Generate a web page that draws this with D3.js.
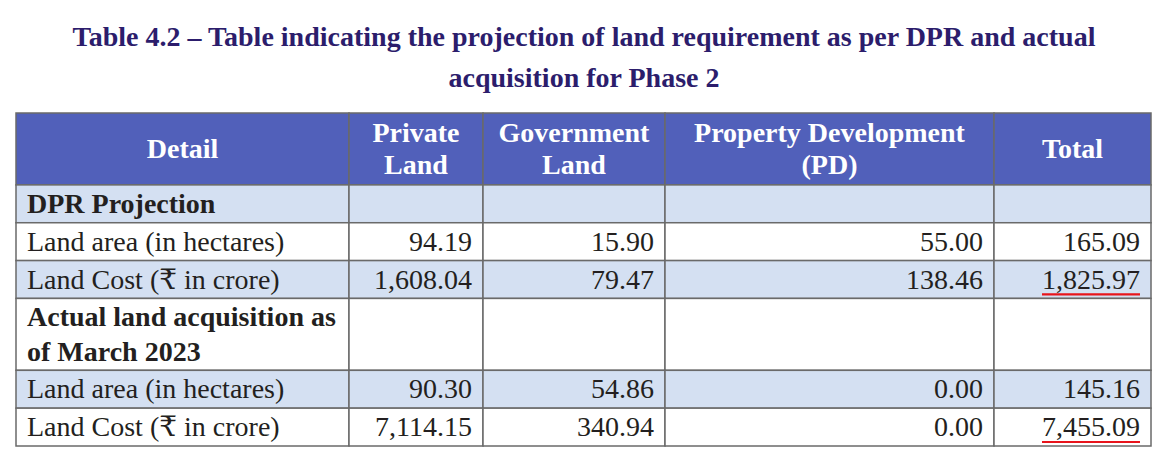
<!DOCTYPE html>
<html>
<head>
<meta charset="utf-8">
<script src="https://cdn.jsdelivr.net/npm/d3@7"></script>
<style>
  body { margin: 0; background: #fff; }
  svg { display: block; }
</style>
</head>
<body>
<div id="chart"></div>
<script>
var titleLines = ['Table 4.2 \u2013 Table indicating the projection of land requirement as per DPR and actual',
  'acquisition for Phase 2']
var headers = [['Detail'], ['Private', 'Land'], ['Government', 'Land'], ['Property Development', '(PD)'], ['Total']]
var sections = [['DPR Projection'], ['Actual land acquisition as', 'of March 2023']]
var measures = ['Land area (in hectares)', 'Land Cost (\u20b9 in crore)']
var dprValues = [[94.19, 15.90, 55.00, 165.09], [1608.04, 79.47, 138.46, 1825.97]]
var actualValues = [[90.30, 54.86, 0.00, 145.16], [7114.15, 340.94, 0.00, 7455.09]]

var W = 1170
var H = 462
var fmt = d3.format(',.2f')
var font = 'Liberation Serif, Times New Roman, DejaVu Serif, serif'

// build the table rows: header, section, two measures, section, two measures
var rows = [{ type: 'head', lines: null }]
var allValues = [dprValues, actualValues]
sections.forEach(function (s, si) {
  rows.push({ type: 'section', lines: s, size: s.length })
  measures.forEach(function (m, mi) {
    rows.push({ type: 'data', lines: [m], values: allValues[si][mi], underline: mi === 1 })
  })
})
rows.forEach(function (r, i) {
  r.units = (r.type === 'head' || (r.lines && r.lines.length > 1)) ? 1.9 : 1
  r.fill = r.type === 'head' ? '#5160ba' : (i % 2 === 1 ? '#d4e0f2' : '#ffffff')
})

var colUnits = [333, 134, 182, 329, 157]
var colEdges = [0]
colUnits.forEach(function (u) { colEdges.push(colEdges[colEdges.length - 1] + u) })
var x = d3.scaleLinear().domain([0, d3.sum(colUnits)]).range([16, 1151])

var rowEdges = [0]
rows.forEach(function (r) { rowEdges.push(rowEdges[rowEdges.length - 1] + r.units) })
var y = d3.scaleLinear().domain([0, rowEdges[rowEdges.length - 1]]).range([113, 446])

var svg = d3.select('#chart').append('svg')
  .attr('width', W)
  .attr('height', H)

svg.selectAll('text.title')
  .data(titleLines)
  .enter()
  .append('text')
  .attr('class', 'title')
  .attr('x', 584)
  .attr('y', function (d, i) { return 46 + i * 41 })
  .attr('text-anchor', 'middle')
  .attr('font-family', font)
  .attr('font-weight', 'bold')
  .attr('font-size', 28)
  .attr('fill', '#2c1d6c')
  .text(function (d) { return d })

var rowG = svg.selectAll('g.row')
  .data(rows)
  .enter()
  .append('g')
  .attr('class', 'row')

rows.forEach(function (r, ri) {
  var g = d3.select(rowG.nodes()[ri])
  var top = y(rowEdges[ri])
  var bot = y(rowEdges[ri + 1])
  var mid = (top + bot) / 2

  g.selectAll('rect')
    .data(colUnits)
    .enter()
    .append('rect')
    .attr('x', function (d, i) { return x(colEdges[i]) })
    .attr('y', top)
    .attr('width', function (d) { return x(d) - x(0) })
    .attr('height', bot - top)
    .attr('fill', r.fill)
    .attr('stroke', '#6a6a6a')
    .attr('stroke-width', 1.5)

  if (r.type === 'head') {
    headers.forEach(function (lines, ci) {
      var cx = (x(colEdges[ci]) + x(colEdges[ci + 1])) / 2
      g.selectAll(null)
        .data(lines)
        .enter()
        .append('text')
        .attr('x', cx)
        .attr('y', function (d, i) { return mid + 9 + (i - (lines.length - 1) / 2) * 32 })
        .attr('text-anchor', 'middle')
        .attr('font-family', font)
        .attr('font-weight', 'bold')
        .attr('font-size', 28)
        .attr('fill', '#ffffff')
        .text(function (d) { return d })
    })
    return
  }

  g.selectAll('text.label')
    .data(r.lines)
    .enter()
    .append('text')
    .attr('class', 'label')
    .attr('x', x(0) + 11)
    .attr('y', function (d, i) { return mid + 9 + (i - (r.lines.length - 1) / 2) * 35 })
    .attr('font-family', font)
    .attr('font-weight', r.type === 'section' ? 'bold' : 'normal')
    .attr('font-size', 28)
    .attr('fill', '#231f20')
    .text(function (d) { return d })

  if (r.type === 'data') {
    var nums = g.selectAll('text.num')
      .data(r.values)
      .enter()
      .append('text')
      .attr('class', 'num')
      .attr('x', function (d, i) { return x(colEdges[i + 2]) - 11 })
      .attr('y', mid + 9)
      .attr('text-anchor', 'end')
      .attr('font-family', font)
      .attr('font-size', 28)
      .attr('fill', '#231f20')
      .text(function (d) { return fmt(d) })

    if (r.underline) {
      var last = nums.nodes()[r.values.length - 1]
      var len = last.getComputedTextLength()
      var xe = x(colEdges[r.values.length + 1]) - 11
      g.append('line')
        .attr('x1', xe - len)
        .attr('x2', xe)
        .attr('y1', bot - 4)
        .attr('y2', bot - 4)
        .attr('stroke', '#e8141b')
        .attr('stroke-width', 2.2)
    }
  }
})
</script>
</body>
</html>
